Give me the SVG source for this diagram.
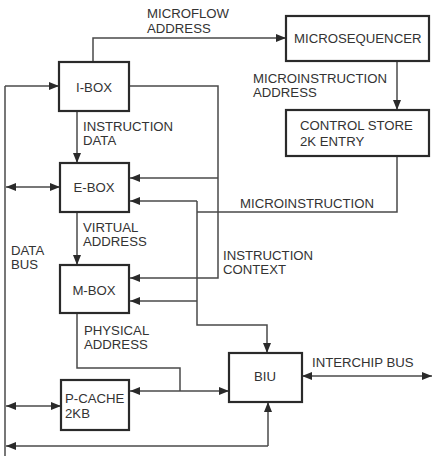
<svg xmlns="http://www.w3.org/2000/svg" width="432" height="467" viewBox="0 0 432 467">
<style>
.box{fill:#fff;stroke:#2a2a2a;stroke-width:2.2}
.ln{fill:none;stroke:#4a4a4a;stroke-width:1.5}
text{font-family:"Liberation Sans",Arial,sans-serif;font-size:13.2px;fill:#333}
.c{text-anchor:middle}
</style>
<defs>
<marker id="ah" viewBox="0 0 10 8" refX="10" refY="4" markerWidth="10" markerHeight="8" markerUnits="userSpaceOnUse" orient="auto-start-reverse">
<path d="M0,0 L10,4 L0,8 Z" fill="#2a2a2a"/>
</marker>
</defs>
<rect width="432" height="467" fill="#fff"/>
<g id="connectors">
<path class="ln" d="M93,62 V38 H286" marker-end="url(#ah)"/>
<path class="ln" d="M397,61 V110" marker-end="url(#ah)"/>
<path class="ln" d="M397,156 V212 H197"/>
<path class="ln" d="M197,201 V325 H267 V353" marker-end="url(#ah)"/>
<path class="ln" d="M197,201 H130" marker-end="url(#ah)"/>
<path class="ln" d="M197,301 H130" marker-end="url(#ah)"/>
<path class="ln" d="M130,86 H218 V278 H130" marker-end="url(#ah)"/>
<path class="ln" d="M218,178 H130" marker-end="url(#ah)"/>
<path class="ln" d="M77,111 V163" marker-end="url(#ah)"/>
<path class="ln" d="M77,212 V265" marker-end="url(#ah)"/>
<path class="ln" d="M77,313 V368 H180 V391"/>
<path class="ln" d="M130,391 H229" marker-start="url(#ah)" marker-end="url(#ah)"/>
<path class="ln" d="M5,86 V456"/>
<path class="ln" d="M5,86 H59" marker-end="url(#ah)"/>
<path class="ln" d="M6,187 H60" marker-start="url(#ah)" marker-end="url(#ah)"/>
<path class="ln" d="M6,406 H61" marker-start="url(#ah)" marker-end="url(#ah)"/>
<path class="ln" d="M268,446 H6" marker-end="url(#ah)"/>
<path class="ln" d="M268,446 V402" marker-end="url(#ah)"/>
<path class="ln" d="M302,376 H432" marker-start="url(#ah)" marker-end="url(#ah)"/>
</g>
<g id="ibox"><rect class="box" x="59" y="62" width="70" height="49"/><text class="c" x="94" y="92">I-BOX</text></g>
<g id="ebox"><rect class="box" x="60" y="163" width="69" height="49"/><text class="c" x="94" y="192">E-BOX</text></g>
<g id="mbox"><rect class="box" x="60" y="265" width="69" height="48"/><text class="c" x="94" y="295">M-BOX</text></g>
<g id="pcache"><rect class="box" x="61" y="380" width="68" height="50"/><text x="65" y="403">P-CACHE</text><text x="65" y="418">2KB</text></g>
<g id="biu"><rect class="box" x="229" y="353" width="73" height="49"/><text class="c" x="265" y="381">BIU</text></g>
<g id="microsequencer"><rect class="box" x="286" y="16" width="143" height="45"/><text x="294" y="43">MICROSEQUENCER</text></g>
<g id="controlstore"><rect class="box" x="286" y="110" width="143" height="46"/><text x="300" y="130">CONTROL STORE</text><text x="300" y="146">2K ENTRY</text></g>
<g id="labels">
<text x="147" y="18">MICROFLOW</text><text x="147" y="33">ADDRESS</text>
<text x="253" y="83">MICROINSTRUCTION</text><text x="253" y="97">ADDRESS</text>
<text x="83" y="131">INSTRUCTION</text><text x="83" y="145">DATA</text>
<text x="240" y="208">MICROINSTRUCTION</text>
<text x="83" y="232">VIRTUAL</text><text x="83" y="246">ADDRESS</text>
<text x="11" y="255">DATA</text><text x="11" y="269">BUS</text>
<text x="223" y="260">INSTRUCTION</text><text x="223" y="274">CONTEXT</text>
<text x="84" y="335">PHYSICAL</text><text x="84" y="349">ADDRESS</text>
<text x="312" y="367">INTERCHIP BUS</text>
</g>
</svg>
